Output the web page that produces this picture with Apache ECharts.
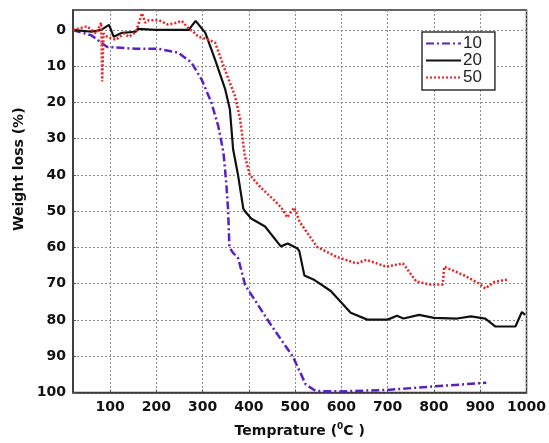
<!DOCTYPE html>
<html>
<head>
<meta charset="utf-8">
<script src="https://cdn.jsdelivr.net/npm/echarts@6/dist/echarts.min.js"></script>
<style>
  html, body { margin: 0; padding: 0; background: #fff; }
  #chart { width: 549px; height: 443px; }
</style>
</head>
<body>
<div id="chart"></div>
<script>
// tick labels
var xTicks = [100, 200, 300, 400, 500, 600, 700, 800, 900, 1000];
var yTicks = [0, 10, 20, 30, 40, 50, 60, 70, 80, 90, 100];

// series "10"
var temp10 = [20, 60, 94, 156, 205, 248, 276, 298, 319, 334, 345, 351, 355, 358, 366, 377, 392, 448, 495, 523, 545, 598, 699, 791, 913];
var loss10 = [0, 1.5, 4.7, 5.2, 5.2, 6.3, 9, 13.7, 20, 26.6, 33.7, 41.9, 49.3, 60, 61.5, 63, 70.4, 81.4, 90.1, 97.8, 99.6, 99.7, 99.3, 98.4, 97.3];

// series "20"
var temp20 = [20, 60, 81, 98, 108, 126, 156, 160, 199, 270, 285, 306, 327, 349, 359, 366, 377, 388, 392, 405, 435, 469, 484, 505, 509, 520, 542, 577, 620, 656, 700, 720, 734, 768, 800, 850, 880, 911, 933, 976, 990, 997];
var loss20 = [0, 0.5, 0, -1.4, 1.9, 0.8, 0.5, -0.3, 0, 0, -2.5, 0.8, 8.2, 16.4, 21.9, 32.9, 40.3, 49.3, 50.1, 52, 54.2, 59.7, 58.9, 60.3, 61, 67.7, 69, 72, 78, 79.9, 79.9, 78.8, 79.6, 78.6, 79.4, 79.6, 79.0, 79.6, 81.8, 81.8, 77.8, 78.6];

// series "50"
var temp50 = [20, 50, 70, 81, 83, 86, 95, 113, 130, 141, 156, 169, 176, 184, 205, 225, 241, 255, 269, 280, 291, 310, 327, 348, 370, 381, 391, 402, 426, 455, 470, 483, 498, 510, 522, 548, 590, 633, 654, 697, 733, 748, 762, 790, 819, 822, 862, 897, 911, 930, 961];
var loss50 = [0, -1, 1, -2, 14.2, 1, 2, 2.7, 1, 1.9, 0.5, -4.6, -2, -2.7, -2.7, -1.5, -1.9, -2.5, -0.5, 0.5, 1.9, 2.5, 3.5, 10.9, 18.2, 24.5, 34.5, 40, 43.5, 47, 49, 51.7, 49, 53, 55.2, 59.9, 62.6, 64.4, 63.4, 65.3, 64.4, 67, 69.4, 70.2, 70.2, 65.3, 67.5, 69.9, 71.3, 69.5, 68.8];

function pairs(xs, ys) {
  return xs.map(function (x, i) { return [x, ys[i]]; });
}

var chart = echarts.init(document.getElementById('chart'));

var boldFam = 'DejaVu Sans, Verdana, sans-serif';
var legendFam = 'Liberation Sans, Arial, sans-serif';
var labelFont = { color: '#111', fontWeight: 'bold', fontSize: 14, fontFamily: boldFam };
var gridLine = { show: true, lineStyle: { color: '#8a8a8a', type: [2, 2], width: 1 } };

var option = {
  animation: false,
  backgroundColor: '#fff',
  grid: {
    left: 73, right: 19, top: 10, bottom: 47,
    show: true, borderColor: '#333', borderWidth: 1.5, backgroundColor: 'transparent'
  },
  legend: {
    orient: 'vertical',
    left: 422, top: 32,
    itemGap: 0,
    itemWidth: 35,
    itemHeight: 17,
    padding: [3, 13, 4, 3],
    borderColor: '#333',
    borderWidth: 1.5,
    backgroundColor: '#fff',
    itemStyle: { opacity: 0 },
    textStyle: { color: '#222', fontSize: 17, lineHeight: 17, fontFamily: legendFam, padding: [0, 0, 0, -3] },
    data: ['10', '20', '50']
  },
  xAxis: {
    type: 'value',
    min: 20, max: 1000,
    name: 'Temprature ({s|0}C )',
    nameLocation: 'middle',
    nameGap: 30,
    nameTextStyle: {
      color: '#111', fontWeight: 'bold', fontSize: 14, fontFamily: boldFam,
      rich: { s: { fontSize: 9, fontWeight: 'bold', fontFamily: boldFam, color: '#111', padding: [0, 0, 8, 0] } }
    },
    axisLine: { show: true, onZero: false, lineStyle: { color: '#333', width: 1.5 } },
    axisTick: { show: true, inside: true, length: 3, customValues: xTicks, lineStyle: { color: '#555' } },
    axisLabel: Object.assign({
      customValues: xTicks, margin: 8,
      formatter: function (v) { return String(v); }
    }, labelFont),
    splitLine: gridLine
  },
  yAxis: {
    type: 'value',
    inverse: true,
    min: -5.5, max: 100,
    name: 'Weight loss (%)',
    nameLocation: 'middle',
    nameGap: 47,
    nameTextStyle: { color: '#111', fontWeight: 'bold', fontSize: 14, fontFamily: boldFam, padding: [0, 0, 0, 64] },
    axisLine: { show: true, onZero: false, lineStyle: { color: '#333', width: 1.5 } },
    axisTick: { show: true, inside: true, length: 3, customValues: yTicks, lineStyle: { color: '#555' } },
    axisLabel: Object.assign({ customValues: yTicks, margin: 7 }, labelFont),
    splitLine: gridLine
  },
  series: [
    {
      name: '10', type: 'line', symbol: 'none',
      data: pairs(temp10, loss10),
      lineStyle: { color: '#5a1fc8', width: 2.5, type: [8, 3, 2, 3] },
      itemStyle: { color: '#5a1fc8' }
    },
    {
      name: '20', type: 'line', symbol: 'none',
      data: pairs(temp20, loss20),
      lineStyle: { color: '#111', width: 2.2 },
      itemStyle: { color: '#111' }
    },
    {
      name: '50', type: 'line', symbol: 'none',
      data: pairs(temp50, loss50),
      lineStyle: { color: '#f02020', width: 2.5, type: [2, 2] },
      itemStyle: { color: '#f02020' }
    }
  ]
};

chart.setOption(option);
</script>
</body>
</html>
